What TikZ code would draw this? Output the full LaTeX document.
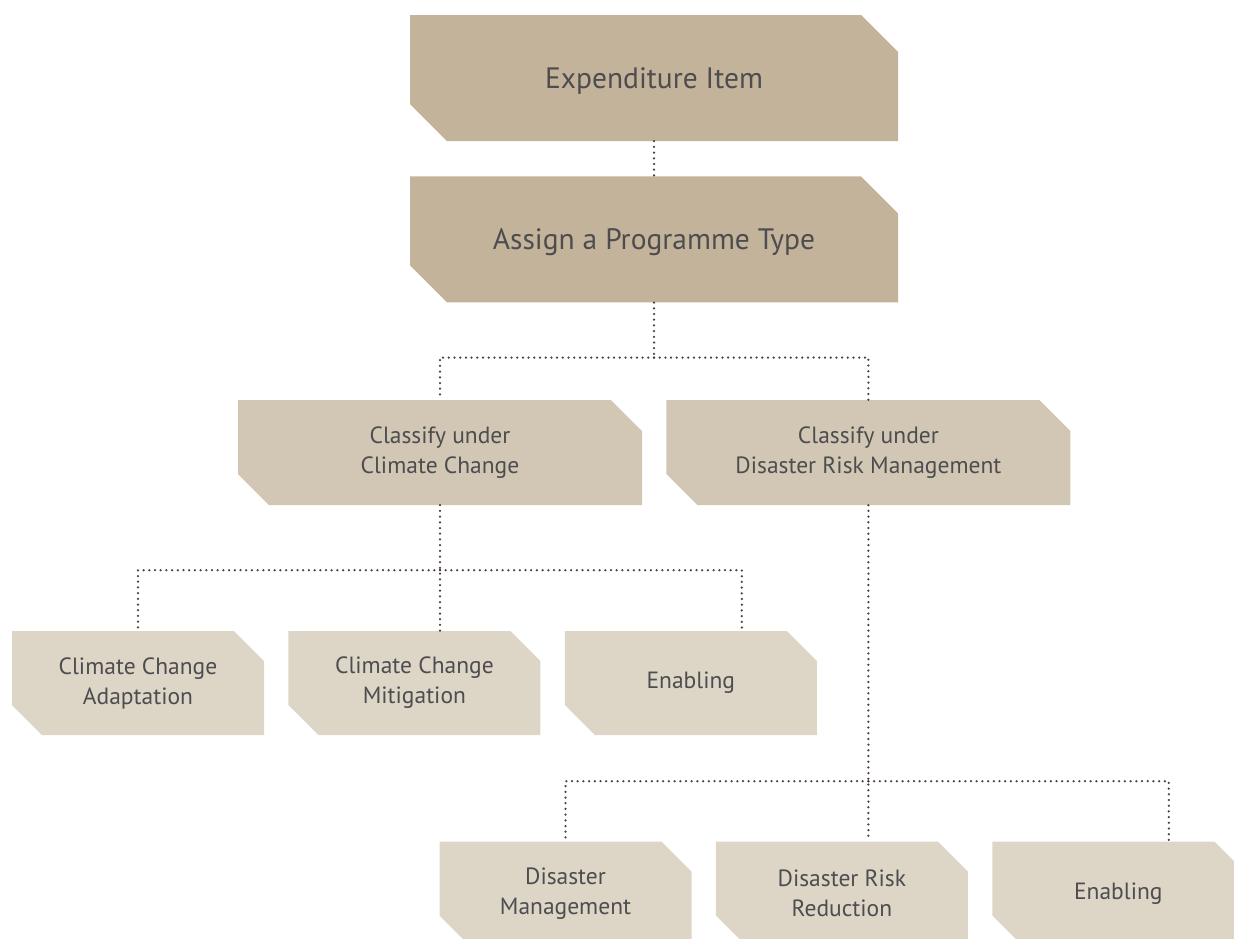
\documentclass[tikz,border=0pt]{standalone}
\usepackage{fontspec}
\setmainfont{PT Sans}
\usepackage{xcolor}
\usepackage{tikz}
\usetikzlibrary{positioning,calc}
\definecolor{boxdark}{HTML}{C4B39B}
\definecolor{boxmid}{HTML}{D1C7B4}
\definecolor{boxlight}{HTML}{DDD6C7}
\definecolor{textgray}{HTML}{4D4D4F}
\definecolor{dotbrown}{HTML}{4F3F3A}

\begin{document}
\begin{tikzpicture}[
    x=1pt, y=-1pt,
    % Box with the top-right and bottom-left corners cut off
    chip/.style 2 args={inner sep=0pt, align=center, text=textgray,
        path picture={\fill[#1] (path picture bounding box.north west)
            -- ([xshift=-#2]path picture bounding box.north east)
            -- ([yshift=-#2]path picture bounding box.north east)
            -- (path picture bounding box.south east)
            -- ([xshift=#2]path picture bounding box.south west)
            -- ([yshift=#2]path picture bounding box.south west) -- cycle;}},
    % Styles
    topbox/.style={chip={boxdark}{37pt}, minimum width=488pt, minimum height=126pt, text depth=0pt, font=\fontsize{29.5}{34}\selectfont},
    midbox/.style={chip={boxmid}{31pt}, minimum width=404pt, minimum height=105pt, font=\fontsize{23.5}{30}\selectfont},
    leafbox/.style={chip={boxlight}{30pt}, minimum width=252pt, minimum height=104pt, font=\fontsize{23.5}{30}\selectfont},
    link/.style={dotbrown, line width=2.5pt, line cap=round, dash pattern=on 0pt off 5.7pt}
]
\useasboundingbox (0,0) rectangle (1234,938);
\clip (0,0) rectangle (1234,938);

% --- NODES ---
\node[topbox] (item) at (654,78) {Expenditure Item};
\node[topbox, below=35pt of item] (prog) {Assign a Programme Type};

\node[midbox] (cc) at (440,452.5) {Classify under\\Climate Change};
\node[midbox, right=24pt of cc] (drm) {Classify under\\Disaster Risk Management};

\node[leafbox] (cca) at (138,683) {Climate Change\\Adaptation};
\node[leafbox, right=24pt of cca] (ccm) {Climate Change\\Mitigation};
\node[leafbox, right=24pt of ccm] (ccen) {Enabling};

\node[leafbox] (dm) at (565.5,893.5) {Disaster\\Management};
\node[leafbox, right=24pt of dm] (drr) {Disaster Risk\\Reduction};
\node[leafbox, right=24pt of drr] (drmen) {Enabling};

% --- CONNECTORS ---
\coordinate (j1) at ($(prog.south)+(0,55)$);
\coordinate (j2) at ($(cc.south)+(0,65)$);
\coordinate (j3) at ($(drm.south)+(0,276)$);

\draw[link] (item) -- (prog);
\draw[link] (prog.south) -- (j1);
\draw[link] (j1) -| (cc.north);
\draw[link] (j1) -| (drm.north);

\draw[link] (cc.south) -- (cc.south |- ccm.north);
\draw[link] (j2) -| (cca.north);
\draw[link] (j2) -| ([xshift=51pt]ccen.north);

\draw[link] (drm.south) -- (drm.south |- drr.north);
\draw[link] (j3) -| (dm.north);
\draw[link] (j3) -| ([xshift=50.5pt]drmen.north);

\end{tikzpicture}
\end{document}
